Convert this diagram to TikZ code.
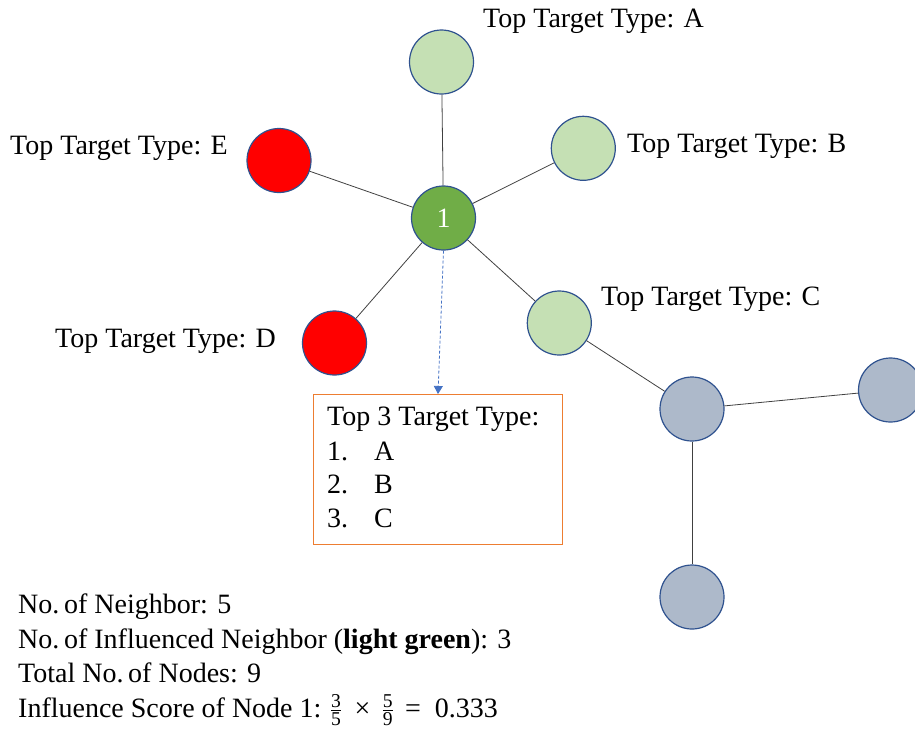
\documentclass[tikz,border=0pt]{standalone}
\usepackage{amsmath}
\usepackage{fontspec}
\setmainfont{Liberation Serif}
\usetikzlibrary{arrows.meta}
\definecolor{lgreen}{HTML}{C5E0B4}
\definecolor{dgreen}{HTML}{70AD47}
\definecolor{nred}{HTML}{FF0000}
\definecolor{ngray}{HTML}{ADB9CA}
\definecolor{nborder}{HTML}{2F528F}
\definecolor{boxorange}{HTML}{ED7D31}
\definecolor{arrowblue}{HTML}{4472C4}
\tikzset{
  nd/.style={circle, draw=nborder, line width=1.2pt, minimum size=64pt, inner sep=0pt},
  lg/.style={nd, fill=lgreen},
  rd/.style={nd, fill=nred},
  gy/.style={nd, fill=ngray},
  edge/.style={draw=black!75, line width=0.8pt},
  lbl/.style={font=\fontsize{28}{34}\selectfont, inner sep=0pt, anchor=base west},
}
\begin{document}
\begin{tikzpicture}[x=1pt,y=-1pt]
\useasboundingbox (0,0) rectangle (915,740);
% nodes
\node[nd, fill=dgreen, font=\fontsize{28}{34}\selectfont, text=white] (n1) at (443.5,218) {1};
\node[lg] (A) at (441.5,62) {};
\node[lg] (B) at (583.3,148.3) {};
\node[rd] (E) at (279,160.5) {};
\node[rd] (D) at (334.5,343) {};
\node[lg] (C) at (559.3,323) {};
\node[gy] (G) at (692,409) {};
\node[gy] (GR) at (890.5,390) {};
\node[gy] (GB) at (692,597) {};
% edges
\draw[edge] (n1) -- (A);
\draw[edge] (n1) -- (B);
\draw[edge] (n1) -- (E);
\draw[edge] (n1) -- (D);
\draw[edge] (n1) -- (C);
\draw[edge] (C) -- (G);
\draw[edge] (G) -- (GR);
\draw[edge] (G) -- (GB);
% labels
\node[lbl] (la) at (483,27) {Top Target Type: A};
\node[lbl] (lb) at (627,152) {Top Target Type: B};
\node[lbl] (le) at (10,154) {Top Target Type: E};
\node[lbl] (lc) at (601,305) {Top Target Type: C};
\node[lbl] (ld) at (55,347) {Top Target Type: D};
% box
\node[draw=boxorange, line width=1.2pt, minimum width=249pt, minimum height=150pt, anchor=north west, inner sep=0pt] (box) at (313,394) {};
\coordinate (tip) at (438,394);
\draw[arrowblue, line width=0.8pt, dash pattern=on 3pt off 2pt, -{Triangle[width=9pt,length=8pt]}] (n1.south) -- (tip);
\node[lbl] (b0) at (327,425) {Top 3 Target Type:};
\node[lbl] (b1) at (327,460) {1.};
\node[lbl] (b1t) at (374,460) {A};
\node[lbl] (b2) at (327,493) {2.};
\node[lbl] (b2t) at (374,493) {B};
\node[lbl] (b3) at (327,527) {3.};
\node[lbl] (b3t) at (374,527) {C};
% bottom text
\node[lbl] (t1) at (18,613) {No.\,of Neighbor: 5};
\node[lbl] (t2) at (18,648) {No.\,of Influenced Neighbor (\textbf{light green}): 3};
\node[lbl] (t3) at (18,682) {Total No.\,of Nodes: 9};
\node[lbl] (t4) at (18,717) {Influence Score of Node 1:\hspace{0.3em}$\frac{\text{3}}{\text{5}}$\hspace{0.45em}×\hspace{0.4em}$\frac{\text{5}}{\text{9}}$\hspace{0.4em}=\hspace{0.5em}0.333};
\end{tikzpicture}
\end{document}
